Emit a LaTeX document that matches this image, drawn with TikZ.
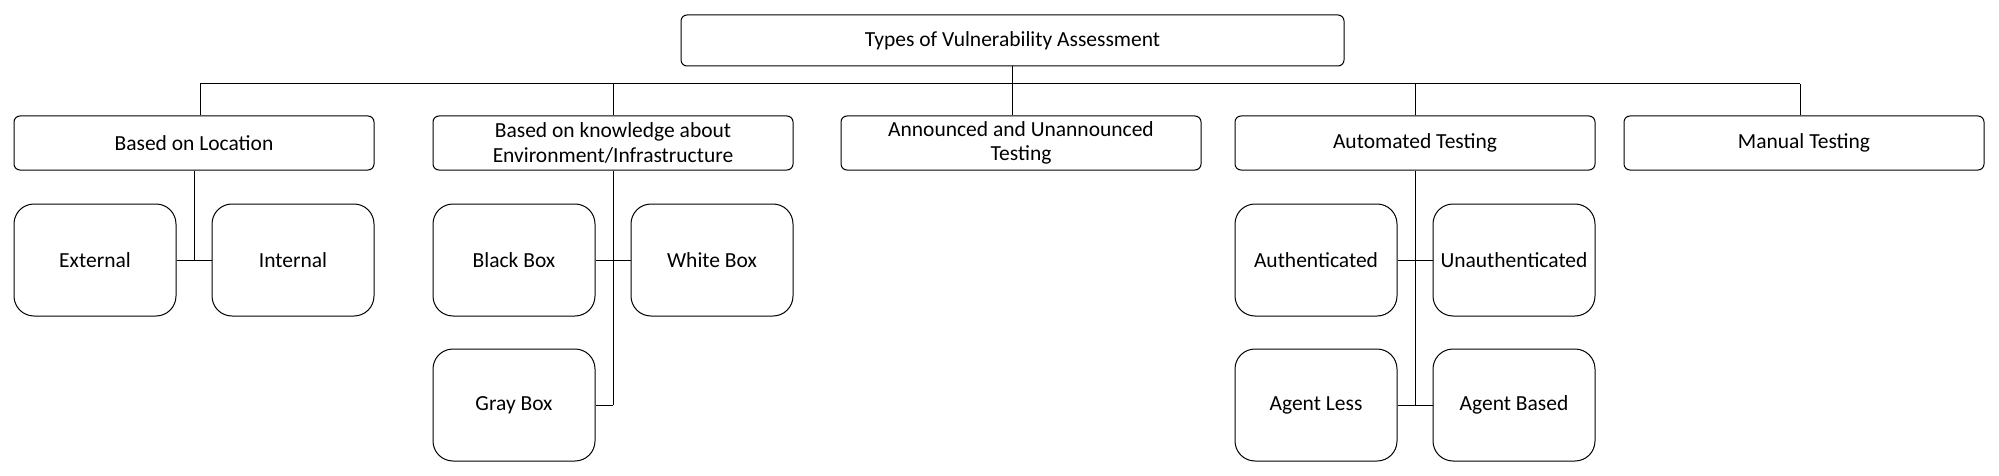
\documentclass[tikz,border=0pt]{standalone}
\usepackage{fontspec}
\setmainfont{Carlito}
\begin{document}
\begin{tikzpicture}[x=1pt,y=-1pt,
  every node/.style={font=\fontsize{21.5}{24.5}\selectfont},
  lvl/.style={draw, line width=1pt, rounded corners=6pt, minimum width=360pt, minimum height=54pt, inner sep=0pt, align=center},
  leaf/.style={draw, line width=1pt, rounded corners=20pt, minimum width=162pt, minimum height=112pt, inner sep=0pt, align=center},
  conn/.style={line width=1pt}]
\useasboundingbox (0,0) rectangle (1999,476);
\node[lvl, minimum width=663pt, minimum height=51pt] (top) at (1012.5,40.5) {Types of Vulnerability Assessment};
\node[lvl] (loc) at (194,143) {Based on Location};
\node[lvl] (know) at (613,143) {Based on knowledge about\\Environment/Infrastructure};
\node[lvl] (ann) at (1021,143) {Announced and Unannounced\\Testing};
\node[lvl] (auto) at (1415,143) {Automated Testing};
\node[lvl] (man) at (1804,143) {Manual Testing};
\node[leaf] (ext) at (95,260) {External};
\node[leaf] (int) at (293,260) {Internal};
\node[leaf] (black) at (514,260) {Black Box};
\node[leaf] (white) at (712,260) {White Box};
\node[leaf] (gray) at (514,405) {Gray Box};
\node[leaf] (auth) at (1316,260) {Authenticated};
\node[leaf] (unauth) at (1514,260) {Unauthenticated};
\node[leaf] (aless) at (1316,405) {Agent Less};
\node[leaf] (abased) at (1514,405) {Agent Based};
\coordinate (busL) at (200,84);
\coordinate (busR) at (1800,84);
\coordinate (topx) at (1012,66);
% bus
\draw[conn] (busL) -- (busR);
\draw[conn] (topx) -- (topx |- ann.north);
\draw[conn] (busL) -- (busL |- loc.north);
\draw[conn] (know.north) -- (know.north |- busL);
\draw[conn] (auto.north) -- (auto.north |- busL);
\draw[conn] (busR) -- (busR |- man.north);
% location
\draw[conn] (loc.south) -- (loc.south |- ext.east);
\draw[conn] (ext.east) -- (int.west);
% knowledge
\draw[conn] (know.south) -- (know.south |- gray.east);
\draw[conn] (black.east) -- (white.west);
\draw[conn] (gray.east) -- (know.south |- gray.east);
% automated
\draw[conn] (auto.south) -- (auto.south |- aless.east);
\draw[conn] (auth.east) -- (unauth.west);
\draw[conn] (aless.east) -- (abased.west);
\end{tikzpicture}
\end{document}
